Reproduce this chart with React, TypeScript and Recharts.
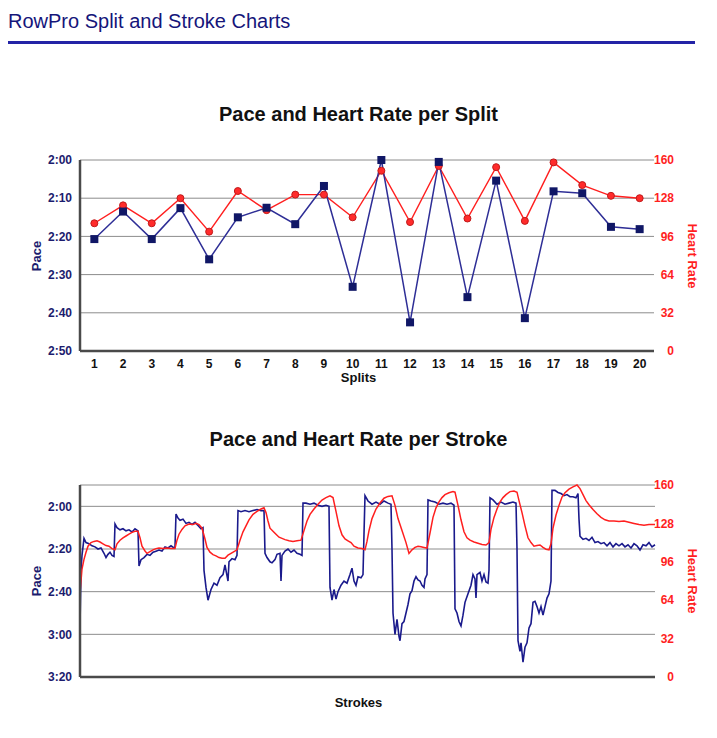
import { LineChart, Line, XAxis, YAxis, CartesianGrid } from "recharts";

// splits chart
const splits = [1, 2, 3, 4, 5, 6, 7, 8, 9, 10, 11, 12, 13, 14, 15, 16, 17, 18, 19, 20];
const splitPace = [140.7, 133.5, 140.7, 132.6, 146, 135, 132.5, 136.8, 126.8, 153.2, 120, 162.5, 120.5, 155.9, 125.4, 161.4, 128.2, 128.7, 137.5, 138.1];
const splitHeartRate = [107, 122, 107, 128, 100, 134, 118, 131, 131, 112, 151, 108, 155, 111, 154, 109, 158, 139, 130, 128];

// strokes chart (stroke number -> pace in seconds)
const strokePaceAt = [
  1, 2, 3, 5, 7, 10, 13, 16, 19, 22, 25, 27, 29, 31, 33, 35, 36, 38, 41, 44, 47, 50, 53, 56, 59, 60,
  62, 65, 68, 71, 74, 77, 80, 83, 86, 89, 92, 95, 96, 97, 99, 101, 104, 107, 110, 113, 116, 119, 122, 124,
  125, 127, 129, 132, 135, 138, 141, 144, 146, 147, 149, 150, 153, 156, 158, 159, 162, 166, 170, 174, 178, 182,
  185, 186, 188, 191, 193, 196, 198, 201, 202, 203, 206, 209, 212, 215, 218, 221, 223, 224, 227, 231, 235, 239,
  243, 247, 250, 251, 253, 255, 257, 259, 262, 265, 268, 271, 273, 275, 277, 279, 282, 284, 285, 286, 289, 293,
  297, 301, 305, 309, 312, 313, 314, 316, 318, 320, 321, 323, 325, 327, 329, 331, 333, 335, 337, 339, 341, 343,
  345, 346, 348, 349, 352, 356, 360, 364, 368, 372, 375, 376, 378, 380, 382, 384, 386, 389, 392, 394, 396, 397,
  398, 401, 403, 405, 407, 409, 410, 411, 414, 418, 422, 426, 430, 434, 437, 438, 439, 441, 442, 444, 446, 448,
  450, 452, 454, 456, 458, 460, 462, 464, 466, 468, 470, 472, 473, 476, 479, 482, 485, 488, 491, 494, 497, 499,
  500, 501, 504, 507, 510, 513, 516, 519, 522, 525, 528, 531, 534, 537, 540, 543, 546, 549, 552, 555, 558, 561,
  564, 567, 570, 573, 576,
];
const strokePace = [
  176, 150, 143, 135, 137, 137.5, 138.5, 139, 140, 139.5, 142, 144, 142.5, 141.5, 143, 143.5, 128.3, 130, 131, 130.5, 131.5, 131, 132, 130.5, 131.5, 148,
  145, 144, 142.5, 143, 141.5, 141, 140.5, 141, 139, 139.5, 138.5, 139.5, 139, 123.6, 125.5, 126.5, 126, 128, 127.5, 128.5, 127.5, 129, 130.5, 130,
  150, 158, 164, 159, 156, 157, 153.5, 152, 147.5, 150, 155, 146, 144.5, 145, 143, 122, 122.5, 122, 122.5, 122, 121.5, 122,
  122, 142, 144, 146, 146.5, 145, 142.5, 142, 155, 143, 141, 140, 141.5, 140.5, 142, 142.5, 143, 118.5, 118.5, 119, 118.5, 119.5,
  120, 119.5, 120, 158, 164, 159, 163.5, 160, 157, 155, 156, 152, 149, 155, 157, 153, 153.5, 152, 133, 115, 117.5, 119,
  118, 119, 117.5, 118.5, 119, 140, 170, 180, 173, 181, 183, 175, 174, 170, 166, 161, 159.5, 155, 153, 154.5, 155, 157,
  158, 154, 152, 117, 117.5, 118, 119, 118.5, 119, 118.5, 119.5, 168, 170, 174, 176, 171, 165, 161, 157, 152, 154, 163,
  152, 151, 155, 152, 155.5, 156, 150, 116, 117, 119, 118, 119, 118.5, 118, 118.5, 140, 183, 188, 184, 193, 186, 184,
  177, 175, 165, 164.5, 167, 170, 167, 171, 167, 163, 161, 155, 112.5, 112.5, 113.5, 114, 115, 114.5, 115.5, 115.5, 116, 114,
  126, 134, 135.5, 135, 136, 134.5, 137, 136.5, 137.5, 137, 138.5, 137, 139, 137.5, 138.5, 137.5, 139, 138, 139.5, 137.5, 138.5, 140.5,
  138, 138.5, 137, 139, 138,
];

// strokes chart (stroke number -> heart rate)
const strokeHrAt = [
  1, 2, 3, 5, 7, 9, 12, 15, 18, 21, 24, 27, 30, 33, 36, 38, 41, 44, 47, 50, 53, 56, 59, 61, 63, 66,
  68, 71, 74, 77, 80, 84, 88, 92, 96, 98, 100, 103, 106, 110, 114, 117, 120, 123, 126, 128, 131, 134, 137, 140,
  143, 146, 149, 152, 155, 158, 161, 164, 167, 170, 174, 178, 182, 185, 187, 189, 191, 194, 197, 200, 203, 206,
  210, 214, 218, 222, 225, 228, 231, 235, 239, 243, 247, 251, 254, 257, 260, 263, 266, 269, 272, 275, 279, 283,
  286, 288, 290, 293, 297, 301, 305, 309, 313, 316, 319, 323, 327, 330, 333, 336, 339, 342, 345, 348, 351, 354,
  357, 360, 363, 366, 370, 374, 376, 379, 382, 385, 388, 391, 395, 399, 403, 407, 410, 412, 415, 418, 421, 424,
  427, 431, 435, 438, 440, 443, 446, 449, 452, 455, 458, 461, 464, 467, 470, 472, 474, 477, 480, 483, 486, 490,
  494, 498, 501, 504, 507, 510, 514, 518, 522, 526, 530, 535, 540, 545, 550, 555, 560, 565, 570, 576,
];
const strokeHr = [
  70, 80, 90, 98, 104, 109, 112, 113, 113.5, 112.5, 111, 109.5, 109, 107, 106, 111, 114, 116, 117.5, 119, 120.5, 121.5, 121.5, 116, 109, 105,
  103, 104.5, 106, 107, 107.5, 107, 107.5, 107, 107, 114, 119, 123, 126, 127.5, 127, 128, 127, 124, 115, 108, 104, 102, 101, 99.5,
  99, 99, 101.5, 103, 104.5, 106, 114, 121, 126, 131, 135.5, 138, 140, 141, 137, 130, 124, 121.5, 119, 116.5, 115.5, 114.5,
  113.5, 113, 113.5, 114, 122, 130, 135.5, 140, 144, 147.5, 149.5, 151, 149.5, 138, 126, 118.5, 115, 113.5, 112, 109, 107.5, 107,
  106, 113, 122, 132, 140, 145, 149, 150.5, 151, 143, 132, 122, 112, 103, 106, 108, 109, 108.5, 108, 107.5, 120, 133,
  141, 146, 149.5, 152, 153.5, 154.5, 154, 143, 131, 121, 116, 114, 112.5, 111.5, 110.5, 110, 112, 123, 133, 140, 146, 149.5,
  152, 154.5, 155, 154, 147, 137, 126, 116, 112, 109, 109.5, 110, 108, 106.5, 106, 111, 124, 135, 143, 150, 153.5, 156.5,
  158.5, 160, 157, 152, 147, 143.5, 139.5, 136, 133, 131, 130, 130, 129.5, 130, 129, 128, 127, 126.5, 127, 127,
];

const paceTicksSplit = [120, 130, 140, 150, 160, 170];
const paceTicksStroke = [120, 140, 160, 180, 200];
const hrTicks = [0, 32, 64, 96, 128, 160];

const NAVY = "#1c1c6e";
const BLUE_LINE = "#2e2e96";
const RED = "#ff1f1f";
const FONT = "'Liberation Sans', Arial, sans-serif";

const fmtPace = (v: number) => `${Math.floor(v / 60)}:${String(v % 60).padStart(2, "0")}`;

const splitRows = splits.map((s, i) => ({ split: s, pace: splitPace[i], hr: splitHeartRate[i] }));
const strokePaceRows = strokePaceAt.map((s, i) => ({ stroke: s, pace: strokePace[i] }));
const strokeHrRows = strokeHrAt.map((s, i) => ({ stroke: s, hr: strokeHr[i] }));

const SquareDot = (p: any) => (
  <rect key={`sq-${p.index}`} x={p.cx - 4} y={p.cy - 4} width={8} height={8} fill="#101766" />
);

const textStyle = { position: "absolute" as const, fontFamily: FONT, whiteSpace: "nowrap" as const };

function AxisTitle({ text, x, y, color, angle }: { text: string; x: number; y: number; color: string; angle: number }) {
  return (
    <div
      style={{
        ...textStyle,
        left: x,
        top: y,
        transform: `translate(-50%, -50%) rotate(${angle}deg)`,
        color,
        fontWeight: "bold",
        fontSize: 13,
      }}
    >
      {text}
    </div>
  );
}

export default function App() {
  return (
    <div style={{ position: "absolute", left: 0, top: 0, width: 717, height: 738, background: "#fff", fontFamily: FONT }}>
      <div style={{ ...textStyle, left: 8, top: 10, fontSize: 20, color: "#15157a" }}>RowPro Split and Stroke Charts</div>
      <div style={{ position: "absolute", left: 8, top: 41, width: 687, height: 3, background: "#2323a6" }} />

      <div style={{ ...textStyle, left: 0, width: 717, top: 103, textAlign: "center", fontSize: 20, fontWeight: "bold", color: "#111" }}>
        Pace and Heart Rate per Split
      </div>
      <div style={{ position: "absolute", left: 0, top: 0 }}>
        <LineChart width={717} height={390} data={splitRows} margin={{ top: 160, right: 0, bottom: 0, left: 0 }}>
          <CartesianGrid yAxisId="pace" vertical={false} stroke="#8c8c8c" />
          <XAxis
            dataKey="split"
            scale="band"
            height={39}
            tickLine={false}
            axisLine={{ stroke: "#4a4a4a", strokeWidth: 2.5 }}
            tick={{ fill: "#111", fontSize: 12, fontWeight: "bold" }}
            interval={0}
          />
          <YAxis
            yAxisId="pace"
            width={80}
            reversed
            domain={[120, 170]}
            ticks={paceTicksSplit}
            tickFormatter={fmtPace}
            tickLine={false}
            axisLine={{ stroke: "#4a4a4a", strokeWidth: 2.5 }}
            tick={{ fill: NAVY, fontSize: 12, fontWeight: "bold" }}
          />
          <YAxis
            yAxisId="hr"
            orientation="right"
            width={63}
            domain={[0, 160]}
            ticks={hrTicks}
            tickLine={false}
            axisLine={false}
            tick={{ fill: RED, fontSize: 12, fontWeight: "bold", textAnchor: "end", dx: 12 }}
          />
          <Line yAxisId="hr" dataKey="hr" stroke={RED} strokeWidth={1.4} dot={{ r: 3.5, fill: "#ff2b2b", stroke: "#c01a1a", strokeWidth: 1 }} isAnimationActive={false} />
          <Line yAxisId="pace" dataKey="pace" stroke={BLUE_LINE} strokeWidth={1.5} dot={SquareDot} isAnimationActive={false} />
        </LineChart>
      </div>
      <div style={{ ...textStyle, left: 0, width: 717, top: 370, textAlign: "center", fontSize: 13, fontWeight: "bold", color: "#111" }}>Splits</div>
      <AxisTitle text="Pace" x={36} y={256} color={NAVY} angle={-90} />
      <AxisTitle text="Heart Rate" x={692} y={256} color={RED} angle={90} />

      <div style={{ ...textStyle, left: 0, width: 717, top: 428, textAlign: "center", fontSize: 20, fontWeight: "bold", color: "#111" }}>
        Pace and Heart Rate per Stroke
      </div>
      <div style={{ position: "absolute", left: 0, top: 400 }}>
        <LineChart width={717} height={338} margin={{ top: 85, right: 0, bottom: 0, left: 0 }}>
          <CartesianGrid yAxisId="pace" vertical={false} stroke="#8c8c8c" />
          <XAxis
            dataKey="stroke"
            type="number"
            domain={[1, 576]}
            height={61}
            tick={false}
            tickLine={false}
            axisLine={{ stroke: "#4a4a4a", strokeWidth: 2.5 }}
          />
          <YAxis
            yAxisId="pace"
            width={80}
            reversed
            domain={[110, 200]}
            ticks={paceTicksStroke}
            tickFormatter={fmtPace}
            tickLine={false}
            axisLine={{ stroke: "#4a4a4a", strokeWidth: 2.5 }}
            tick={{ fill: NAVY, fontSize: 12, fontWeight: "bold" }}
          />
          <YAxis
            yAxisId="hr"
            orientation="right"
            width={62}
            domain={[0, 160]}
            ticks={hrTicks}
            tickLine={false}
            axisLine={false}
            tick={{ fill: RED, fontSize: 12, fontWeight: "bold", textAnchor: "end", dx: 11 }}
          />
          <Line yAxisId="pace" data={strokePaceRows} dataKey="pace" stroke="#1a1a8c" strokeWidth={1.6} dot={false} isAnimationActive={false} />
          <Line yAxisId="hr" data={strokeHrRows} dataKey="hr" stroke={RED} strokeWidth={1.5} dot={false} isAnimationActive={false} />
        </LineChart>
      </div>
      <div style={{ ...textStyle, left: 0, width: 717, top: 695, textAlign: "center", fontSize: 13, fontWeight: "bold", color: "#111" }}>Strokes</div>
      <AxisTitle text="Pace" x={36} y={581} color={NAVY} angle={-90} />
      <AxisTitle text="Heart Rate" x={692} y={581} color={RED} angle={90} />
    </div>
  );
}
